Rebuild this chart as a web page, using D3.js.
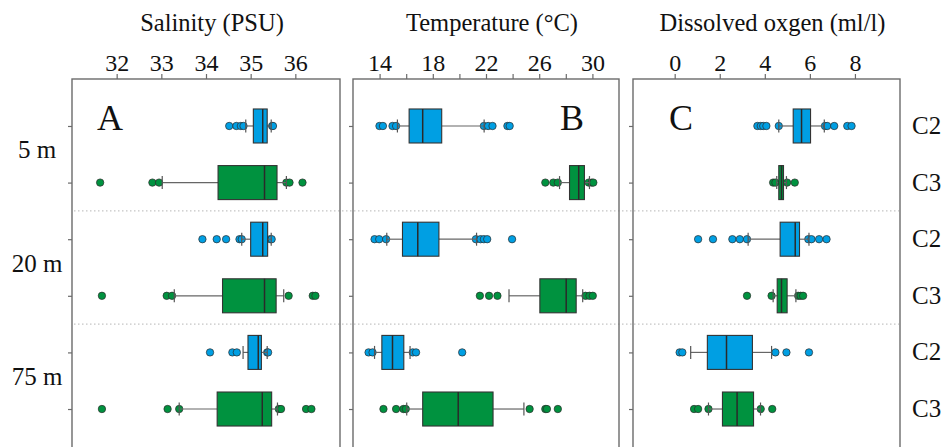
<!DOCTYPE html>
<html>
<head>
<meta charset="utf-8">
<script src="https://cdn.jsdelivr.net/npm/d3@7"></script>
<style>
  body { margin: 0; background: #fff; }
  svg { font-family: "Liberation Serif", "Times New Roman", serif; }
</style>
</head>
<body>
<svg id="chart" width="946" height="447"></svg>
<script>
// Row labels (top to bottom) and depth groups
var rows = ["C2", "C3", "C2", "C3", "C2", "C3"];
var depths = ["5 m", "20 m", "75 m"];

// Box stats per row: [lower whisker, q1, median, q3, upper whisker]
var salinityBoxes = [
    [34.89, 35.06, 35.27, 35.37, 35.46],
    [33.02, 34.27, 35.31, 35.59, 35.80],
    [34.80, 35.00, 35.27, 35.38, 35.46],
    [33.29, 34.37, 35.31, 35.57, 35.74],
    [34.83, 34.94, 35.17, 35.24, 35.37],
    [33.40, 34.25, 35.26, 35.47, 35.60]
];
var salinityOutliers = [
    [34.52, 34.68, 34.78, 34.84, 35.48, 35.50],
    [31.63, 32.80, 32.95, 35.80, 35.87, 36.16],
    [33.92, 34.24, 34.45, 34.75, 34.80, 35.44, 35.47],
    [31.67, 33.12, 33.24, 35.85, 36.39, 36.45],
    [34.09, 34.59, 34.69, 35.37, 35.39],
    [31.67, 33.14, 33.40, 35.63, 35.68, 36.24, 36.36]
];

var temperatureBoxes = [
    [15.34, 16.22, 17.24, 18.67, 21.86],
    [27.53, 28.28, 28.97, 29.40, 29.78],
    [14.54, 15.72, 16.87, 18.46, 21.29],
    [23.73, 26.05, 28.03, 28.78, 29.27],
    [13.62, 14.17, 14.97, 15.82, 16.29],
    [16.04, 17.24, 19.91, 22.53, 24.85]
];
var temperatureOutliers = [
    [13.99, 14.25, 14.97, 15.24, 21.84, 22.16, 22.49, 23.61, 23.78],
    [26.46, 27.06, 27.40, 29.72, 29.95, 30.07],
    [13.62, 13.97, 14.49, 21.24, 21.59, 21.84, 22.09, 23.96],
    [21.54, 22.23, 22.86, 29.48, 29.78, 30.03],
    [13.17, 13.47, 16.49, 16.74, 20.21],
    [14.29, 15.24, 15.79, 15.97, 25.28, 26.46, 26.58, 27.40]
];

var oxygenBoxes = [
    [4.62, 5.26, 5.63, 6.03, 6.64],
    [4.53, 4.62, 4.74, 4.83, 4.96],
    [3.26, 4.68, 5.35, 5.54, 5.96],
    [4.37, 4.55, 4.74, 4.99, 5.38],
    [0.71, 1.45, 2.30, 3.45, 4.30],
    [1.50, 2.12, 2.77, 3.50, 3.81]
];
var oxygenOutliers = [
    [3.67, 3.82, 3.93, 4.07, 4.62, 6.67, 6.77, 7.08, 7.66, 7.85],
    [4.37, 4.47, 4.99, 5.33],
    [1.04, 1.70, 2.56, 2.89, 3.21, 5.93, 6.07, 6.41, 6.74],
    [3.21, 4.30, 5.48, 5.59, 5.70],
    [0.22, 0.34, 4.47, 4.96, 5.96],
    [0.86, 1.04, 1.50, 3.82, 4.33]
];

// Axis settings
var salinityTicks = [32, 33, 34, 35, 36];
var temperatureTicks = [14, 16, 18, 20, 22, 24, 26, 28, 30];
var temperatureLabels = [14, 18, 22, 26, 30];
var oxygenTicks = [0, 2, 4, 6, 8];

var panels = [
    { title: "Salinity (PSU)", letter: "A", letterX: 110, domain: [31, 37], left: 72, right: 340,
      boxes: salinityBoxes, outliers: salinityOutliers, ticks: salinityTicks, labels: salinityTicks },
    { title: "Temperature (\u00B0C)", letter: "B", letterX: 572, domain: [12, 32], left: 353, right: 619,
      boxes: temperatureBoxes, outliers: temperatureOutliers, ticks: temperatureTicks, labels: temperatureLabels },
    { title: "Dissolved oxgen (ml/l)", letter: "C", letterX: 681, domain: [-1.85, 10], left: 633, right: 900,
      boxes: oxygenBoxes, outliers: oxygenOutliers, ticks: oxygenTicks, labels: oxygenTicks }
];

var colors = { C2: "#009FE3", C3: "#00923F" };
var frameColor = "#6b6b6b";
var plotTop = 79, plotBottom = 456, boxH = 34;

var svg = d3.select("#chart");

var yScale = d3.scalePoint()
    .domain(d3.range(rows.length))
    .range([plotTop, plotBottom])
    .padding(0.83);

// dotted separators between depth groups
[1, 3].forEach(function(i) {
    var y = (yScale(i) + yScale(i + 1)) / 2;
    svg.append("line")
        .attr("x1", 74).attr("x2", 899)
        .attr("y1", y).attr("y2", y)
        .style("stroke", "#b5b5b5")
        .style("stroke-width", 1)
        .style("stroke-dasharray", "1.5,2.5");
});

panels.forEach(function(p) {
    var x = d3.scaleLinear().domain(p.domain).range([p.left, p.right]);
    var g = svg.append("g");

    // frame
    g.append("rect")
        .attr("x", p.left).attr("y", plotTop)
        .attr("width", p.right - p.left).attr("height", plotBottom - plotTop)
        .attr("fill", "none")
        .style("stroke", frameColor)
        .style("stroke-width", 1.4);

    // top axis
    var ax = g.append("g")
        .attr("transform", "translate(0," + plotTop + ")")
        .call(d3.axisTop(x)
            .tickValues(p.ticks)
            .tickSize(5)
            .tickPadding(3)
            .tickFormat(function(d) { return p.labels.indexOf(d) >= 0 ? d : ""; }));
    ax.select(".domain").remove();
    ax.selectAll(".tick line").style("stroke", frameColor).style("stroke-width", 1.2);
    ax.selectAll(".tick text")
        .style("font-family", "'Liberation Serif', serif")
        .style("font-size", "24px")
        .attr("fill", "#111");

    // left row ticks
    var ay = g.append("g")
        .attr("transform", "translate(" + p.left + ",0)")
        .call(d3.axisLeft(yScale).tickSize(4).tickFormat(""));
    ay.select(".domain").remove();
    ay.selectAll(".tick line").style("stroke", frameColor).style("stroke-width", 1.2);

    // title
    g.append("text")
        .attr("x", (p.left + p.right) / 2 + 6)
        .attr("y", 31)
        .attr("text-anchor", "middle")
        .style("font-size", "24.5px")
        .attr("fill", "#111")
        .text(p.title);

    // panel letter
    g.append("text")
        .attr("x", p.letterX)
        .attr("y", 130)
        .attr("text-anchor", "middle")
        .style("font-size", "36px")
        .attr("fill", "#111")
        .text(p.letter);

    p.boxes.forEach(function(b, i) {
        var cy = yScale(i);
        var col = colors[rows[i]];

        // outliers
        g.selectAll(null)
            .data(p.outliers[i])
            .enter()
            .append("circle")
                .attr("cx", function(d) { return x(d); })
                .attr("cy", cy)
                .attr("r", 3.7)
                .style("fill", col)
                .style("stroke", "#2b2b2b")
                .style("stroke-width", 0.7);

        // whiskers
        [[b[0], b[1]], [b[3], b[4]]].forEach(function(w) {
            g.append("line")
                .attr("x1", x(w[0])).attr("x2", x(w[1]))
                .attr("y1", cy).attr("y2", cy)
                .style("stroke", "#666")
                .style("stroke-width", 1.2);
        });
        [b[0], b[4]].forEach(function(v) {
            g.append("line")
                .attr("x1", x(v)).attr("x2", x(v))
                .attr("y1", cy - 6.5).attr("y2", cy + 6.5)
                .style("stroke", "#555")
                .style("stroke-width", 1.2);
        });

        // box
        g.append("rect")
            .attr("x", x(b[1]))
            .attr("y", cy - boxH / 2)
            .attr("width", x(b[3]) - x(b[1]))
            .attr("height", boxH)
            .style("fill", col)
            .style("stroke", "#333")
            .style("stroke-width", 1.1);

        // median
        g.append("line")
            .attr("x1", x(b[2])).attr("x2", x(b[2]))
            .attr("y1", cy - boxH / 2).attr("y2", cy + boxH / 2)
            .style("stroke", "#2a2a2a")
            .style("stroke-width", 1.5);
    });
});

// depth labels on the left
depths.forEach(function(d, k) {
    var y = (yScale(2 * k) + yScale(2 * k + 1)) / 2;
    svg.append("text")
        .attr("x", 37)
        .attr("y", y + 4)
        .attr("text-anchor", "middle")
        .style("font-size", "25px")
        .attr("fill", "#111")
        .text(d);
});

// group labels on the right
rows.forEach(function(r, i) {
    svg.append("text")
        .attr("x", 912)
        .attr("y", yScale(i) + 8)
        .style("font-size", "25px")
        .attr("fill", "#111")
        .text(r);
});
</script>
</body>
</html>
